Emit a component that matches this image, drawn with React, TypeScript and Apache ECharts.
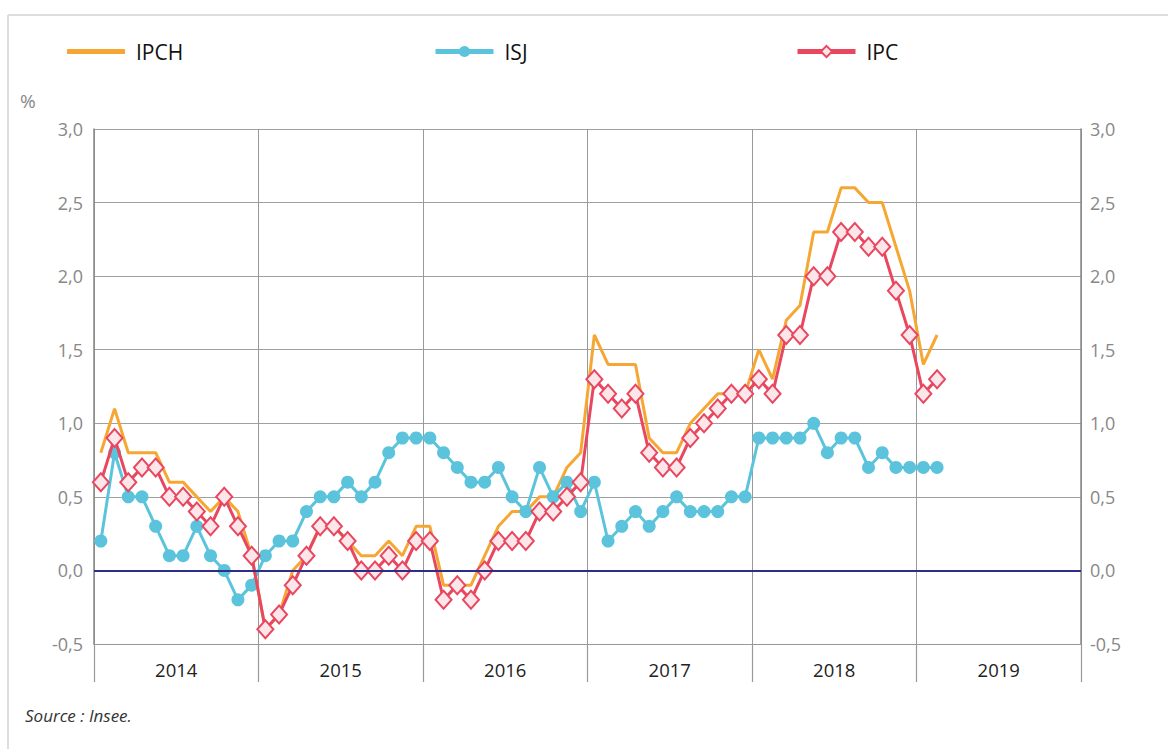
import React, { useEffect, useRef } from "react";
import * as echarts from "echarts";

const years = ["2014", "2015", "2016", "2017", "2018", "2019"];
const months: string[] = [];
years.forEach((y) => {
  for (let m = 1; m <= 12; m++) months.push(`${y}-${m < 10 ? "0" + m : m}`);
});

const ipch = [
  0.8, 1.1, 0.8, 0.8, 0.8, 0.6, 0.6, 0.5, 0.4, 0.5, 0.4, 0.1,
  -0.4, -0.3, 0.0, 0.1, 0.3, 0.3, 0.2, 0.1, 0.1, 0.2, 0.1, 0.3,
  0.3, -0.1, -0.1, -0.1, 0.1, 0.3, 0.4, 0.4, 0.5, 0.5, 0.7, 0.8,
  1.6, 1.4, 1.4, 1.4, 0.9, 0.8, 0.8, 1.0, 1.1, 1.2, 1.2, 1.2,
  1.5, 1.3, 1.7, 1.8, 2.3, 2.3, 2.6, 2.6, 2.5, 2.5, 2.2, 1.9,
  1.4, 1.6,
];
const isj = [
  0.2, 0.8, 0.5, 0.5, 0.3, 0.1, 0.1, 0.3, 0.1, 0.0, -0.2, -0.1,
  0.1, 0.2, 0.2, 0.4, 0.5, 0.5, 0.6, 0.5, 0.6, 0.8, 0.9, 0.9,
  0.9, 0.8, 0.7, 0.6, 0.6, 0.7, 0.5, 0.4, 0.7, 0.5, 0.6, 0.4,
  0.6, 0.2, 0.3, 0.4, 0.3, 0.4, 0.5, 0.4, 0.4, 0.4, 0.5, 0.5,
  0.9, 0.9, 0.9, 0.9, 1.0, 0.8, 0.9, 0.9, 0.7, 0.8, 0.7, 0.7,
  0.7, 0.7,
];
const ipc = [
  0.6, 0.9, 0.6, 0.7, 0.7, 0.5, 0.5, 0.4, 0.3, 0.5, 0.3, 0.1,
  -0.4, -0.3, -0.1, 0.1, 0.3, 0.3, 0.2, 0.0, 0.0, 0.1, 0.0, 0.2,
  0.2, -0.2, -0.1, -0.2, 0.0, 0.2, 0.2, 0.2, 0.4, 0.4, 0.5, 0.6,
  1.3, 1.2, 1.1, 1.2, 0.8, 0.7, 0.7, 0.9, 1.0, 1.1, 1.2, 1.2,
  1.3, 1.2, 1.6, 1.6, 2.0, 2.0, 2.3, 2.3, 2.2, 2.2, 1.9, 1.6,
  1.2, 1.3,
];

const FONT = "'Open Sans', 'Noto Sans', sans-serif";
const ORANGE = "#F6A733";
const BLUE = "#5BC4DC";
const RED = "#E8475F";
const PINK = "#FDE6EA";

export default function App() {
  const ref = useRef<HTMLDivElement>(null);
  useEffect(() => {
    document.body.style.margin = "0";
    const chart = echarts.init(ref.current!, null, { renderer: "svg" });
    const fmt = (v: number) => v.toFixed(1).replace(".", ",");
    const legendBase = {
      top: 36,
      itemWidth: 58,
      itemHeight: 14,
      lineStyle: { width: 5 },
      textStyle: { fontSize: 21, color: "#111", fontFamily: FONT, padding: [0, 0, 0, 6] },
      selectedMode: false,
    };
    chart.setOption({
      animation: false,
      textStyle: { fontFamily: FONT },
      legend: [
        {
          ...legendBase,
          left: 62,
          data: [{ name: "IPCH", icon: "path://M0,0 L58,0 L58,5 L0,5 Z", itemStyle: { color: ORANGE } }],
        },
        { ...legendBase, left: 428, data: ["ISJ"] },
        { ...legendBase, left: 790, data: ["IPC"] },
      ],
      grid: { left: 94, right: 87, top: 129, bottom: 105, containLabel: false },
      xAxis: [
        {
          type: "category",
          data: months,
          boundaryGap: true,
          show: false,
        },
        {
          type: "category",
          data: years,
          boundaryGap: true,
          position: "bottom",
          axisLine: { show: true, onZero: false, lineStyle: { color: "#999", width: 1 } },
          axisTick: { show: true, length: 38, lineStyle: { color: "#999", width: 1.2 } },
          axisLabel: { fontSize: 18.5, color: "#222", margin: 16, fontFamily: FONT },
          splitLine: { show: true, lineStyle: { color: "#999", width: 1 } },
        },
      ],
      yAxis: [
        {
          type: "value",
          min: -0.5,
          max: 3,
          interval: 0.5,
          position: "left",
          axisLine: { show: true, lineStyle: { color: "#888", width: 1.5 } },
          axisTick: { show: false },
          axisLabel: { color: "#888", fontSize: 18, margin: 11, formatter: fmt, fontFamily: FONT },
          splitLine: { show: true, lineStyle: { color: "#a0a0a0", width: 1 } },
        },
        {
          type: "value",
          min: -0.5,
          max: 3,
          interval: 0.5,
          position: "right",
          axisLine: { show: true, lineStyle: { color: "#888", width: 1.5 } },
          axisTick: { show: false },
          axisLabel: { color: "#888", fontSize: 18, margin: 9, formatter: fmt, fontFamily: FONT },
          splitLine: { show: false },
        },
      ],
      series: [
        {
          name: "IPCH",
          type: "line",
          data: ipch,
          xAxisIndex: 0,
          yAxisIndex: 0,
          showSymbol: false,
          symbol: "none",
          color: ORANGE,
          lineStyle: { color: ORANGE, width: 3 },
          z: 2,
          markLine: {
            silent: true,
            symbol: "none",
            label: { show: false },
            lineStyle: { color: "#2E2E88", width: 2, type: "solid" },
            data: [{ yAxis: 0 }],
          },
        },
        {
          name: "ISJ",
          type: "line",
          data: isj,
          xAxisIndex: 0,
          yAxisIndex: 0,
          symbol: "circle",
          symbolSize: 13,
          showAllSymbol: true,
          color: BLUE,
          lineStyle: { color: BLUE, width: 3 },
          itemStyle: { color: BLUE },
          z: 3,
        },
        {
          name: "IPC",
          type: "line",
          data: ipc,
          xAxisIndex: 0,
          yAxisIndex: 0,
          symbol: "diamond",
          symbolSize: [16, 18],
          showAllSymbol: true,
          color: RED,
          lineStyle: { color: RED, width: 3 },
          itemStyle: { color: PINK, borderColor: RED, borderWidth: 2 },
          z: 4,
        },
      ],
      graphic: [
        {
          type: "line",
          shape: { x1: 8, y1: 15, x2: 1168, y2: 15 },
          style: { stroke: "#dddddd", lineWidth: 2 },
        },
        {
          type: "line",
          shape: { x1: 8, y1: 15, x2: 8, y2: 749 },
          style: { stroke: "#dddddd", lineWidth: 2 },
        },
        {
          type: "text",
          left: 20,
          top: 91,
          style: { text: "%", fontSize: 19, fill: "#888", fontFamily: FONT },
        },
        {
          type: "text",
          left: 25,
          top: 707,
          style: { text: "Source : Insee.", fontSize: 17, fontStyle: "italic", fill: "#333", fontFamily: FONT },
        },
      ],
    });
    return () => chart.dispose();
  }, []);
  return <div ref={ref} style={{ width: 1168, height: 749 }} />;
}
